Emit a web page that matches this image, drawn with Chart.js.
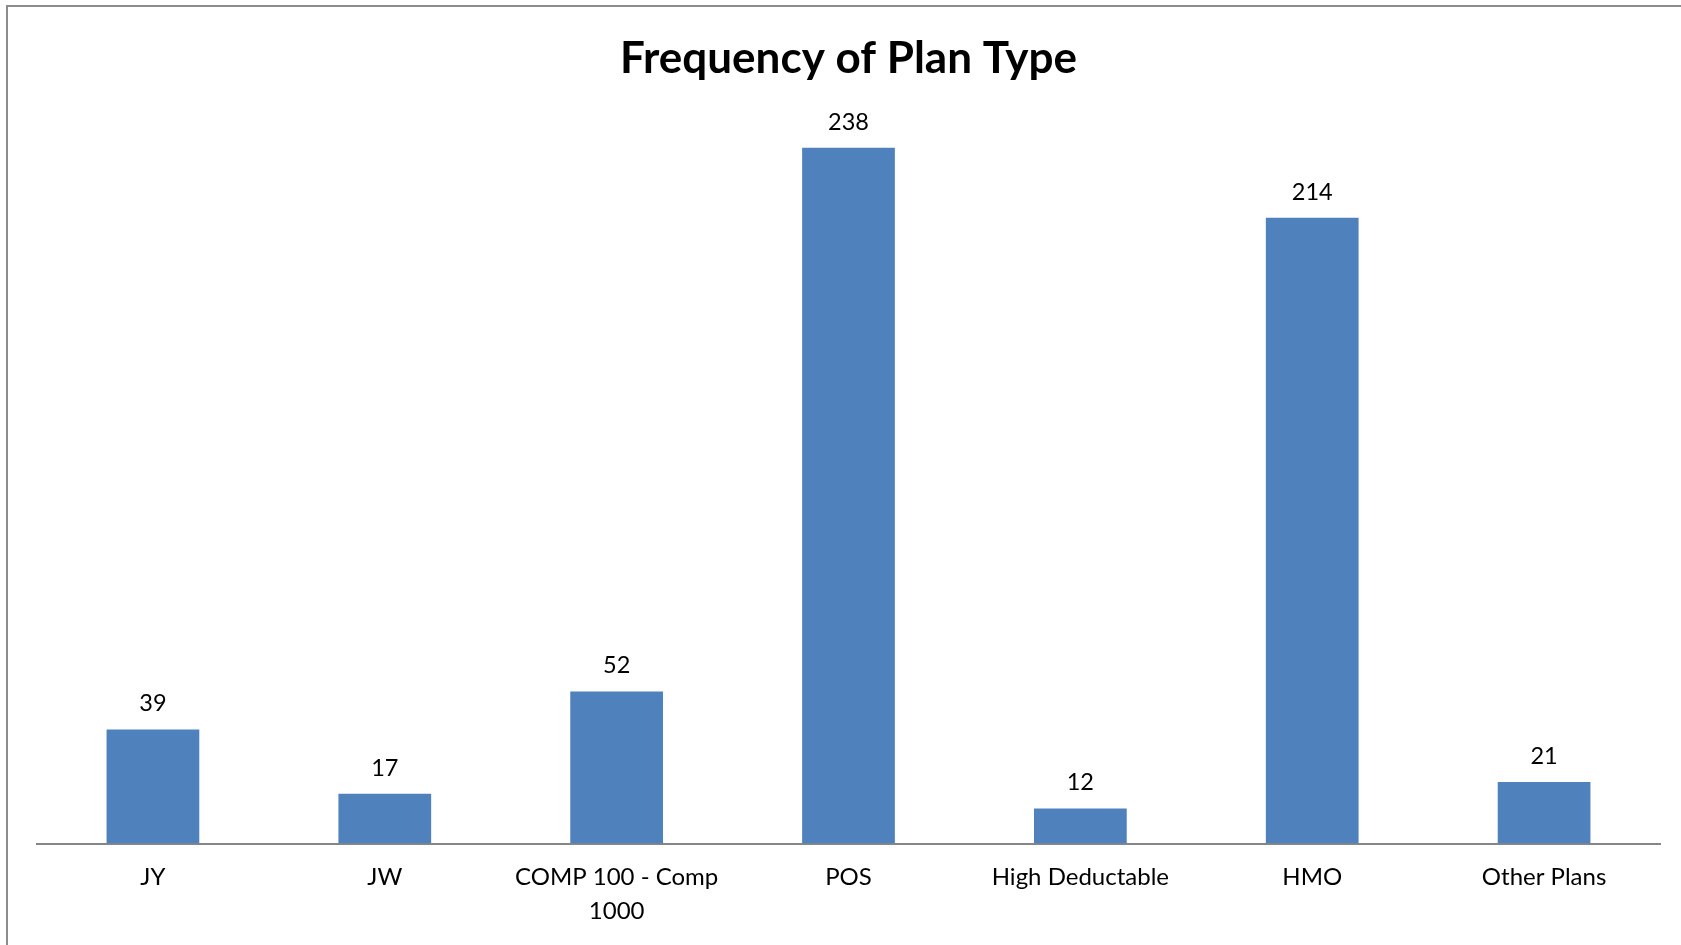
<!DOCTYPE html>
<html>
<head>
<meta charset="utf-8">
<title>Frequency of Plan Type</title>
<script src="https://cdn.jsdelivr.net/npm/chart.js@4.4.1/dist/chart.umd.min.js"></script>
<style>
  html, body { margin: 0; padding: 0; background: #ffffff; }
  #wrap { position: relative; width: 1681px; height: 945px; }
</style>
</head>
<body>
<div id="wrap"><canvas id="chart" width="1681" height="945"></canvas></div>
<script>
// Plan types and how many members are enrolled in each
const categories = ['JY', 'JW', ['COMP 100 - Comp', '1000'], 'POS', 'High Deductable', 'HMO', 'Other Plans'];
const counts = [39, 17, 52, 238, 12, 214, 21];

const chartTitle = 'Frequency of Plan Type';
const barColor = '#4F81BD';
const FONT = 'Lato, "Open Sans", sans-serif';

// Light gray frame along the top and left edges of the chart
const framePlugin = {
  id: 'frame',
  beforeDraw(chart) {
    const ctx = chart.ctx;
    ctx.save();
    ctx.fillStyle = '#ffffff';
    ctx.fillRect(0, 0, chart.width, chart.height);
    ctx.strokeStyle = '#8c8c8c';
    ctx.lineWidth = 2;
    ctx.strokeRect(7, 6, chart.width + 20, chart.height + 20);
    ctx.restore();
  }
};

// Value printed above each bar
const valueLabels = {
  id: 'valueLabels',
  afterDatasetsDraw(chart) {
    const ctx = chart.ctx;
    const meta = chart.getDatasetMeta(0);
    ctx.save();
    ctx.font = '23.5px ' + FONT;
    ctx.fillStyle = '#000000';
    ctx.textAlign = 'center';
    ctx.textBaseline = 'alphabetic';
    meta.data.forEach((bar, i) => {
      const v = chart.data.datasets[0].data[i];
      ctx.fillText(String(v), bar.x, bar.y - 18);
    });
    ctx.restore();
  }
};

new Chart(document.getElementById('chart'), {
  type: 'bar',
  data: {
    labels: categories,
    datasets: [{
      data: counts,
      backgroundColor: barColor,
      borderWidth: 0,
      categoryPercentage: 1.0,
      barPercentage: 0.4
    }]
  },
  options: {
    responsive: false,
    animation: false,
    devicePixelRatio: 1,
    layout: { padding: { left: 37, right: 21, top: 0, bottom: 0 } },
    plugins: {
      legend: { display: false },
      tooltip: { enabled: false },
      title: {
        display: true,
        text: chartTitle,
        color: '#000000',
        font: { family: FONT, size: 44, weight: 'bold', lineHeight: 1.2 },
        padding: { top: 32.4, bottom: 27.4 }
      }
    },
    scales: {
      x: {
        afterFit(scale) { scale.height = 101.5; },
        grid: { display: false, drawTicks: false },
        border: { display: true, color: '#868686', width: 2 },
        ticks: {
          color: '#000000',
          font: { family: FONT, size: 24, lineHeight: 1.4 },
          padding: 17,
          maxRotation: 0,
          autoSkip: false
        }
      },
      y: {
        display: false,
        min: 0,
        max: 250
      }
    }
  },
  plugins: [framePlugin, valueLabels]
});
</script>
</body>
</html>
